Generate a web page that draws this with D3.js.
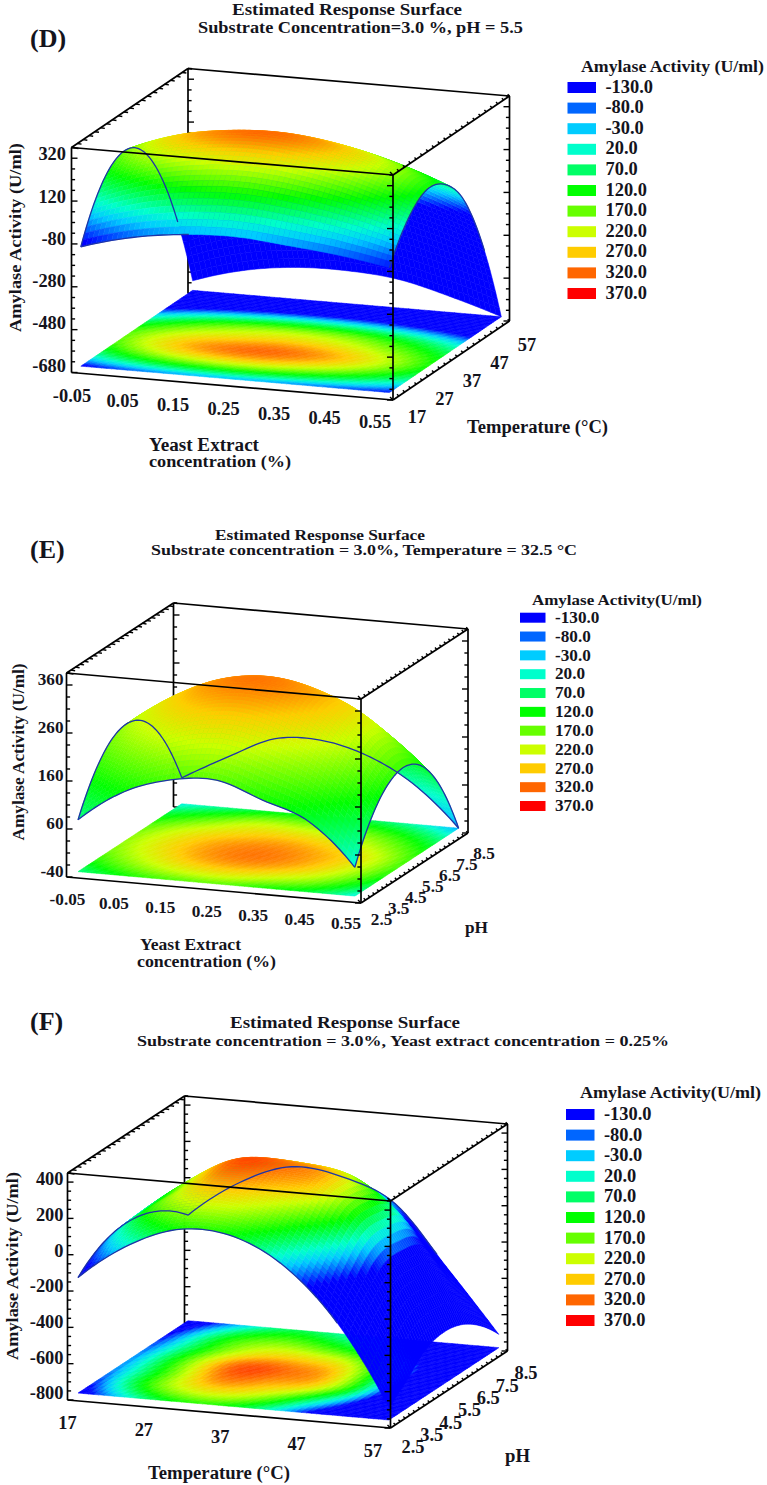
<!DOCTYPE html>
<html>
<head>
<meta charset="utf-8">
<style>html,body{margin:0;padding:0;background:#fff}svg{display:block}text{font-family:"Liberation Serif",serif;font-weight:700;fill:#14141c}</style>
<script src="https://cdn.jsdelivr.net/npm/d3@7/dist/d3.min.js"></script>
</head>
<body>
<script>
// ---- data ----
const legendLevels=[-130,-80,-30,20,70,120,170,220,270,320,370];
const legendColors=["#0000ff","#0066ff","#00ccff","#00ffcc","#00ff66","#00ff00","#66ff00","#ccff00","#ffcc00","#ff6600","#ff0000"];
const yeastTicks=[-0.05,0.05,0.15,0.25,0.35,0.45,0.55];
const tempTicks=[17,27,37,47,57];
const phTicks=[2.5,3.5,4.5,5.5,6.5,7.5,8.5];
const zTicksD=[-680,-480,-280,-80,120,320];
const zTicksE=[-40,60,160,260,360];
const zTicksF=[-800,-600,-400,-200,0,200,400];

const gridYeastD=[-0.05,0.046,0.142,0.238,0.334,0.43,0.526];
const gridTempD=[20.2,26.6,33,39.4,45.8,52.2,58.6];
const surfaceD=[
[-150,-85,-50,-40,-60,-85,-124],
[62,151,196,206,180,128,47],
[158,258,307,317,288,225,125],
[138,215,250,262,235,175,90],
[-7,87,134,143,116,52,-44],
[-275,-191,-149,-141,-166,-228,-315],
[-670,-600,-565,-560,-580,-640,-715]];

const gridYeastE=[-0.044,0.05,0.144,0.238,0.332,0.426,0.52];
const gridPhE=[2.98,3.95,4.92,5.89,6.86,7.83,8.8];
const surfaceE=[
[56,123,156,164,131,95,8],
[134,200,243,255,230,183,91],
[179,244,292,307,286,232,138],
[189,254,296,308,288,244,149],
[164,227,262,272,250,200,122],
[102,161,209,205,180,135,55],
[2,54,100,106,83,33,-52]];

const gridTempF=[17,23.4,29.8,36.3,42.7,49.1,55.5];
const gridPhF=[3.04,3.98,4.92,5.86,6.8,7.74,8.68];
const surfaceF=[
[-192,17,129,112,-34,-321,-770],
[-110,136,241,225,106,-140,-680],
[-70,150,304,292,235,-30,-580],
[-67,160,319,315,250,-25,-550],
[-97,120,240,250,185,-70,-575],
[-157,87,170,140,40,-250,-650],
[-248,-40,73,39,-85,-417,-765]];

// ---- layout ----
const panels=[
{tag:"(D)",tagPos:[30,47],frontEnd:0.36,
 titles:[["Estimated Response Surface",232,15,230,17],["Substrate Concentration=3.0 %, pH = 5.5",198,33,325,17]],
 O:[71.5,372.5],U:[321.5,27.5],V:[116.5,-79],W:[0,-225],
 xDom:[-0.05,0.55],yDom:[17,57],zDom:[-715,350],
 xTicks:yeastTicks,yTicks:tempTicks,zTicks:zTicksD,xFmt:d3.format(".2f"),yFmt:d3.format("d"),
 xLab:[[72,396],[375,422]],yLab:[[417,417],[527,345]],zRight:66,
 gx:gridYeastD,gy:gridTempD,gz:surfaceD,
 zTitle:["Amylase Activity (U/ml)",21,237.5,189,17],
 axisTitles:[["Yeast Extract",149,451,110,18],["concentration (%)",149,467,142,16],["Temperature (°C)",467,433,141,18]],
 leg:{title:"Amylase Activity (U/ml)",tx:581,ty:72,tw:183,tf:16.5,sx:567.5,sw:28.5,sy:82,sh:11,step:20.6,lx:605.5,ly:92.5,fs:18.4}},
{tag:"(E)",tagPos:[30,558],frontEnd:1,
 titles:[["Estimated Response Surface",215,540,210,15.5],["Substrate concentration = 3.0%, Temperature = 32.5 °C",151,555,426,15.5]],
 O:[66.5,877],U:[294.5,26],V:[107,-70],W:[0,-204],
 xDom:[-0.05,0.55],yDom:[2.5,8.5],zDom:[-52,373],
 xTicks:yeastTicks,yTicks:phTicks,zTicks:zTicksE,xFmt:d3.format(".2f"),yFmt:d3.format(".1f"),
 xLab:[[67.5,899],[346,923]],yLab:[[381.6,919],[484,853]],zRight:63.5,
 gx:gridYeastE,gy:gridPhE,gz:surfaceE,
 zTitle:["Amylase Activity (U/ml)",24,752,177,16],
 axisTitles:[["Yeast Extract",140,950,101,17],["concentration (%)",137,967,139,16],["pH",465,933,23,17]],
 leg:{title:"Amylase Activity(U/ml)",tx:532,ty:605,tw:170,tf:15.5,sx:520,sw:25.5,sy:612.7,sh:10,step:18.83,lx:555,ly:623,fs:17.2}},
{tag:"(F)",tagPos:[30,1030],frontEnd:1,
 titles:[["Estimated Response Surface",230,1028,230,17],["Substrate concentration = 3.0%, Yeast extract concentration = 0.25%",137,1046,532,15.5]],
 O:[67.5,1400],U:[323,28],V:[117,-77],W:[0,-227],
 xDom:[17,57],yDom:[2.5,8.5],zDom:[-839,432],
 xTicks:tempTicks,yTicks:phTicks,zTicks:zTicksF,xFmt:d3.format("d"),yFmt:d3.format(".1f"),
 xLab:[[67.5,1423],[373,1451]],yLab:[[413,1447],[526,1373]],zRight:63.5,
 gx:gridTempF,gy:gridPhF,gz:surfaceF,
 zTitle:["Amylase Activity (U/ml)",18,1266,188,17],
 axisTitles:[["Temperature (°C)",148,1479,142,18],["pH",505,1462,25,18]],
 leg:{title:"Amylase Activity(U/ml)",tx:580,ty:1098,tw:181,tf:16.5,sx:566,sw:28.5,sy:1109,sh:11,step:20.6,lx:604,ly:1120,fs:18.4}}
];

const svg=d3.select("body").append("svg").attr("width",767).attr("height",1485);
const color=d3.scaleLinear().domain(legendLevels).range(legendColors).clamp(true);
const line=d3.line();
const SUB=10;
const hyphen=s=>s.replace("\u2212","-");

function catmull(p,t){ // smooth reading between the values of one row
  const n=p.length-1, i=Math.min(Math.floor(t),n-1), f=t-i;
  const g=k=>k<0?3*p[0]-3*p[1]+p[2]:k>n?3*p[n]-3*p[n-1]+p[n-2]:p[k];
  const a=g(i-1),b=g(i),c=g(i+1),d=g(i+2);
  return 0.5*(2*b+(c-a)*f+(2*a-5*b+4*c-d)*f*f+(3*b-a-3*c+d)*f*f*f);
}
function mesh(grid,nSub){
  const rows=grid.length,cols=grid[0].length,out=[];
  for(let r=0;r<=(rows-1)*nSub;r++){
    const row=[];
    for(let c=0;c<=(cols-1)*nSub;c++){
      const col=grid.map(g=>catmull(g,c/nSub));
      row.push(catmull(col,r/nSub));
    }
    out.push(row);
  }
  return out;
}
function txt(g,s,x,y,size,opt={}){
  const t=g.append("text").attr("x",x).attr("y",y).attr("font-size",size).text(hyphen(s));
  if(opt.anchor)t.attr("text-anchor",opt.anchor);
  if(opt.width)t.attr("textLength",opt.width).attr("lengthAdjust","spacingAndGlyphs");
  if(opt.rotate)t.attr("transform",`rotate(-90 ${x} ${y})`);
  return t;
}

panels.forEach(p=>{
  const g=svg.append("g");
  const xs=d3.scaleLinear().domain(p.xDom).range([0,1]);
  const ys=d3.scaleLinear().domain(p.yDom).range([0,1]);
  const zs=d3.scaleLinear().domain(p.zDom).range([0,1]);
  const proj=(x,y,z)=>{
    const a=xs(x),b=ys(y),c=zs(z);
    return [p.O[0]+a*p.U[0]+b*p.V[0]+c*p.W[0],p.O[1]+a*p.U[1]+b*p.V[1]+c*p.W[1]];
  };
  const [x0,x1]=p.xDom,[y0,y1]=p.yDom,[z0,z1]=p.zDom;
  const seg=(gg,a,b,w=1.7)=>gg.append("path").attr("d",line([a,b])).attr("stroke","#000").attr("stroke-width",w).attr("fill","none");
  const ticks=(gg,a,b,n,dx,dy,major)=>{
    d3.range(0,n+1).forEach(i=>{
      const q=[a[0]+(b[0]-a[0])*i/n,a[1]+(b[1]-a[1])*i/n];
      const m=i%major===0?1:0.6;
      gg.append("path").attr("d",line([q,[q[0]+dx*m,q[1]+dy*m]])).attr("stroke","#000").attr("stroke-width",1.4).attr("fill","none");
    });
  };
  const zStep=p.zTicks[1]-p.zTicks[0];
  const zN=Math.round((z1-z0)/(zStep/4));

  // back frame
  const back=g.append("g");
  const BLB=proj(x0,y1,z0),BLT=proj(x0,y1,z1),BRB=proj(x1,y1,z0),BRT=proj(x1,y1,z1);
  const FLB=proj(x0,y0,z0),FLT=proj(x0,y0,z1),FRB=proj(x1,y0,z0),FRT=proj(x1,y0,z1);
  seg(back,BLB,BLT);seg(back,BRB,BRT);seg(back,BLT,BRT);seg(back,FLT,BLT);
  ticks(back,BLB,BLT,zN,6,0,4);ticks(back,BRB,BRT,zN,-6,0,4);
  const yN=(p.yTicks.length-1)*(p.yTicks.length===5?5:4);
  ticks(back,FLT,BLT,yN,7,1,yN+1);

  // surface mesh
  const fine=mesh(p.gz,SUB);
  const fx=d3.range(0,(p.gx.length-1)*SUB+1).map(i=>catmull(p.gx,i/SUB));
  const fy=d3.range(0,(p.gy.length-1)*SUB+1).map(i=>catmull(p.gy,i/SUB));
  const cells=[];
  for(let r=fy.length-2;r>=0;r--)for(let c=0;c<fx.length-1;c++){
    cells.push({r,c,v:(fine[r][c]+fine[r][c+1]+fine[r+1][c]+fine[r+1][c+1])/4});
  }
  const cellPath=(d,flat)=>{
    const P=(r,c)=>proj(fx[c],fy[r],flat?z0:fine[r][c]);
    return line([P(d.r,d.c),P(d.r,d.c+1),P(d.r+1,d.c+1),P(d.r+1,d.c)])+"Z";
  };
  g.append("g").selectAll("path").data(cells).join("path")
    .attr("d",d=>cellPath(d,true)).attr("fill",d=>color(d.v)).attr("stroke",d=>color(d.v)).attr("stroke-width",0.5);
  g.append("g").selectAll("path").data(cells).join("path")
    .attr("d",d=>cellPath(d,false)).attr("fill",d=>color(d.v)).attr("stroke",d=>color(d.v)).attr("stroke-width",0.5);

  // surface outline: it merges with the solid blue, so the deep blue part is left unstroked
  const last=fy.length-1,lastC=fx.length-1;
  const outline=[
    d3.range(0,lastC+1).map(c=>({p:proj(fx[c],fy[0],fine[0][c]),z:c/lastC<=p.frontEnd?fine[0][c]:-999})),
    d3.range(0,lastC+1).map(c=>({p:proj(fx[c],fy[last],fine[last][c]),z:fine[last][c]})),
    d3.range(0,last+1).map(r=>({p:proj(fx[0],fy[r],fine[r][0]),z:fine[r][0]})),
    d3.range(0,last+1).map(r=>({p:proj(fx[lastC],fy[r],fine[r][lastC]),z:fine[r][lastC]}))
  ];
  const edgeLine=d3.line().defined(d=>d.z>-350).x(d=>d.p[0]).y(d=>d.p[1]);
  g.append("g").selectAll("path").data(outline).join("path").attr("d",d=>edgeLine(d))
    .attr("fill","none").attr("stroke","#1e34a8").attr("stroke-width",1.3);

  // front frame
  const front=g.append("g");
  seg(front,FLB,FLT);seg(front,FRB,FRT);seg(front,FLT,FRT);seg(front,FRT,BRT);seg(front,FLB,FRB);seg(front,FRB,BRB);
  ticks(front,FLB,FLT,zN,6,0,4);ticks(front,FRB,FRT,zN,-6,0,4);
  ticks(front,FRB,BRB,yN,-3,-3,yN+1);ticks(front,FRT,BRT,yN,-3,-3,yN+1);

  // tick labels
  const xLabX=d3.scaleLinear().domain(p.xDom).range([p.xLab[0][0],p.xLab[1][0]]);
  const xLabY=d3.scaleLinear().domain(p.xDom).range([p.xLab[0][1],p.xLab[1][1]]);
  const yLabX=d3.scaleLinear().domain(p.yDom).range([p.yLab[0][0],p.yLab[1][0]]);
  const yLabY=d3.scaleLinear().domain(p.yDom).range([p.yLab[0][1],p.yLab[1][1]]);
  const fs=p.leg.fs;
  p.xTicks.forEach(v=>txt(g,p.xFmt(v),xLabX(v),xLabY(v)+fs*0.35,fs,{anchor:"middle"}));
  p.yTicks.forEach(v=>txt(g,p.yFmt(v),yLabX(v),yLabY(v)+fs*0.35,fs,{anchor:"middle"}));
  p.zTicks.forEach(v=>txt(g,d3.format("d")(v),p.zRight,proj(x0,y0,v)[1]+fs*0.35,fs,{anchor:"end"}));

  // titles
  txt(g,p.tag,p.tagPos[0],p.tagPos[1],26);
  p.titles.forEach(t=>txt(g,t[0],t[1],t[2],t[4],{width:t[3]}));
  p.axisTitles.forEach(t=>txt(g,t[0],t[1],t[2],t[4],{width:t[3]}));
  txt(g,p.zTitle[0],p.zTitle[1],p.zTitle[2]+p.zTitle[3]/2,p.zTitle[4],{width:p.zTitle[3],rotate:true});

  // legend
  const L=p.leg;
  txt(g,L.title,L.tx,L.ty,L.tf,{width:L.tw});
  const ly=d3.scaleBand().domain(legendLevels).range([L.sy,L.sy+L.step*legendLevels.length]);
  g.append("g").selectAll("rect").data(legendLevels).join("rect")
    .attr("x",L.sx).attr("y",d=>ly(d)).attr("width",L.sw).attr("height",L.sh).attr("fill",d=>color(d));
  legendLevels.forEach(v=>txt(g,d3.format(".1f")(v),L.lx,ly(v)+(L.ly-L.sy),L.fs));
});
</script>
</body>
</html>
